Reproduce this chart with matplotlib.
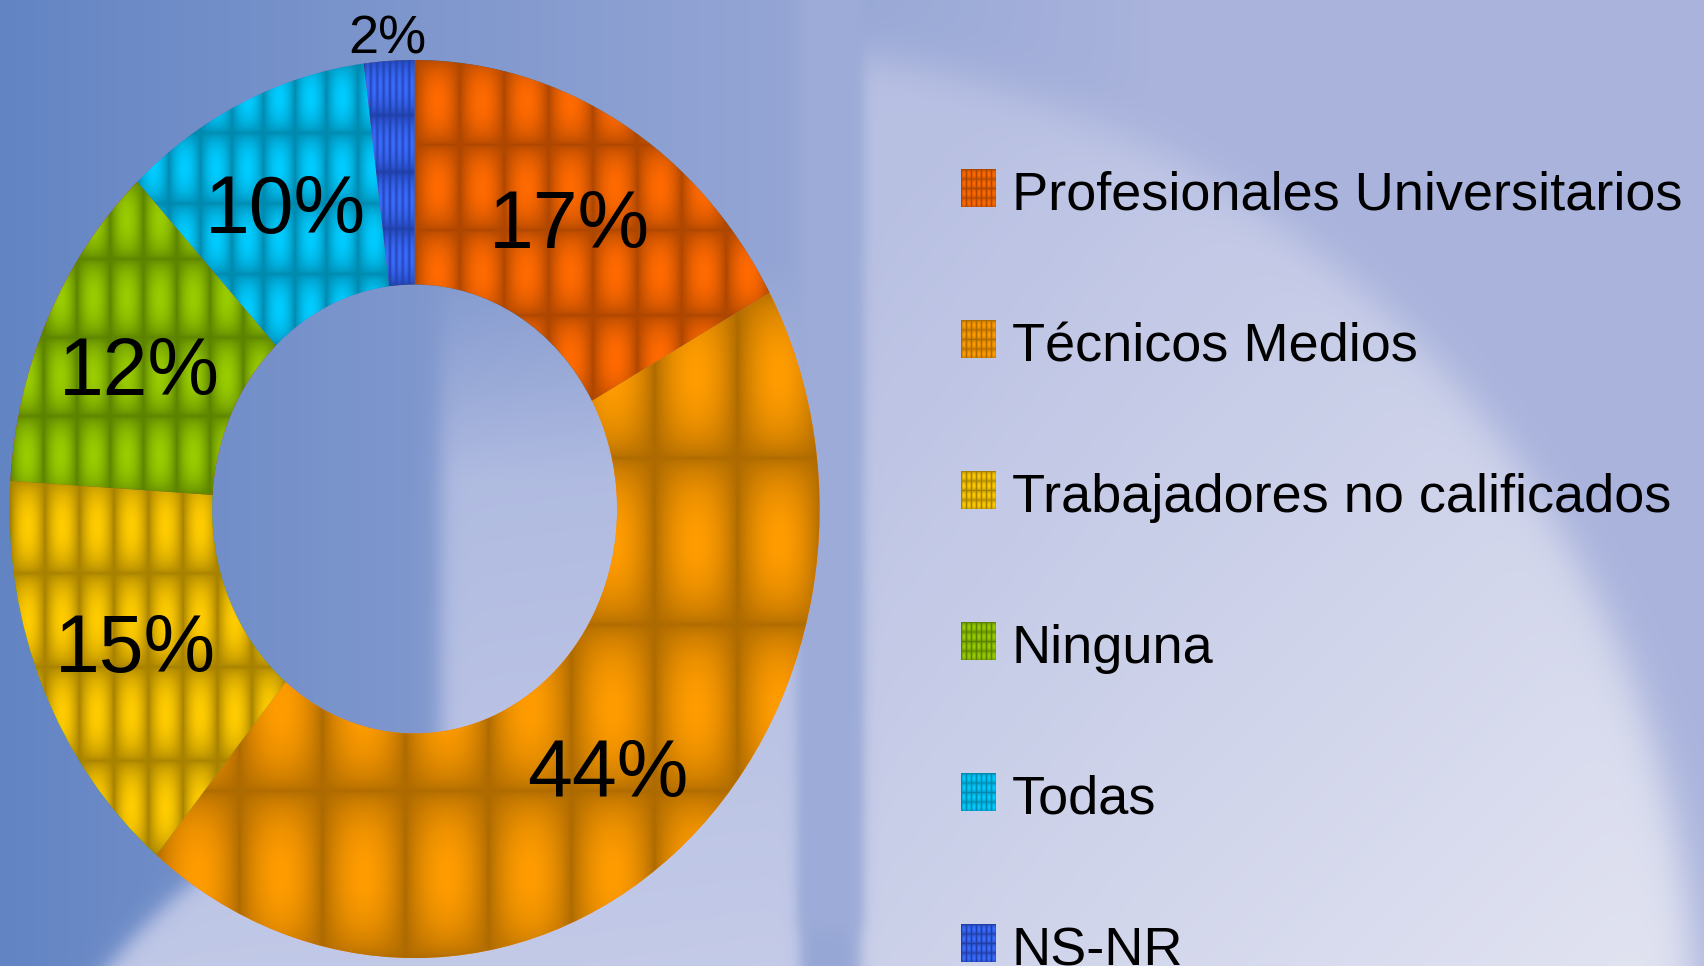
import numpy as np
import matplotlib.pyplot as plt
from matplotlib.colors import to_rgb
from matplotlib.transforms import ScaledTranslation

# data
categories = ['Profesionales Universitarios', 'Técnicos Medios',
              'Trabajadores no calificados', 'Ninguna', 'Todas', 'NS-NR']
values = [17, 44, 15, 12, 10, 2]
light_colors = ['#ff6a00', '#ff9c00', '#ffcc00', '#99cc00', '#00ccff', '#3a6cff']
dark_colors = ['#ad4600', '#ad6a00', '#a68000', '#5a8200', '#0088ad', '#1f3ea6']

W, H = 1704, 966
plt.rcParams['font.family'] = ['Liberation Sans', 'DejaVu Sans']
fig = plt.figure(figsize=(W / 100, H / 100), dpi=100)


def lerp(c0, c1, t):
    c0, c1 = np.array(to_rgb(c0)), np.array(to_rgb(c1))
    t = np.asarray(t, dtype=float)
    return c0 + (c1 - c0) * t[..., None]


def soft(d, w=12.0):
    # smooth 0..1 step on a signed distance
    return 1 / (1 + np.exp(-d / w))


def mix(img, col, m):
    return img * (1 - m[..., None]) + col * m[..., None]


# background: blue slide gradient with the faint watermark shapes
X, Y = np.meshgrid(np.arange(W), np.arange(H))
bg = lerp('#6284c3', '#a9b3dc', np.clip(X / 1150, 0, 1) ** 0.9)

big = soft(990 - np.hypot(X - 706, Y - 1032)) * soft(X - 860, 4)
bg = mix(bg, lerp('#bcc3e4', '#e7e8f3', np.clip((X + Y - 1100) / 1500, 0, 1)), 0.9 * big)

arch = soft(X - 440, 6) * soft(800 - X, 4) * np.clip((Y - 260) / 220, 0, 1)
arc = soft(580 - np.hypot(X - 560, Y - 1330), 6) * soft(800 - X, 4)
low = np.maximum(arch, arc)
bg = mix(bg, lerp('#aeb9e0', '#cbd0eb', np.clip((Y - 300) / 700, 0, 1)), 0.9 * low)

band = soft(X - 800, 4) * soft(860 - X, 4) * soft(930 - Y, 6)
bg = mix(bg, np.array(to_rgb('#9dacd8')), band)

bg_ax = fig.add_axes([0, 0, 1, 1])
bg_ax.imshow(np.clip(bg, 0, 1), aspect='auto', interpolation='bilinear')
bg_ax.axis('off')

# donut, stretched vertically like the original
cx, cy, rx, ry = 414.6, 509, 405, 449
ax = fig.add_axes([(cx - rx) / W, (H - cy - ry) / H, 2 * rx / W, 2 * ry / H])
wedges, _ = ax.pie(values, startangle=90, counterclock=False, radius=1,
                   wedgeprops=dict(width=0.5, linewidth=0))


def bump_texture(nx, ny, cols, rows, c_light, c_dark):
    u = (np.arange(nx) / nx * cols) % 1
    v = (np.arange(ny) / ny * rows) % 1
    f = np.sin(np.pi * u)[None, :] ** 0.8 * np.sin(np.pi * v)[:, None] ** 0.6
    return lerp(c_dark, c_light, f)


for w, cl, cd in zip(wedges, light_colors, dark_colors):
    ext = w.get_path().get_extents()
    nx = max(int(ext.width * rx), 4)
    ny = max(int(ext.height * ry), 4)
    tex = bump_texture(nx, ny, 8, 4, cl, cd)
    ax.imshow(tex, extent=(ext.x0, ext.x1, ext.y0, ext.y1), origin='lower',
              aspect='auto', clip_path=w, zorder=2, interpolation='bilinear')

ax.set_aspect('auto')
ax.set_xlim(-1, 1)
ax.set_ylim(-1, 1)
ax.axis('off')

# percentage labels
for w, val in zip(wedges, values):
    mid = np.deg2rad((w.theta1 + w.theta2) / 2)
    r = 0.75 if val >= 5 else 1.06
    size = 58 if val >= 5 else 39
    drop = ScaledTranslation(0, -size * 0.36 / 72, fig.dpi_scale_trans)
    ax.text(r * np.cos(mid), r * np.sin(mid), f'{val}%', ha='center',
            va='baseline', fontsize=size, color='black', zorder=5,
            transform=ax.transData + drop, clip_on=False)

# legend
row0, step = 188, 151
for i, (name, cl, cd) in enumerate(zip(categories, light_colors, dark_colors)):
    yc = row0 + i * step
    mark = bump_texture(35, 38, 7, 4, cl, cd)
    fig.figimage(mark, xo=961, yo=H - (yc + 19), origin='upper', zorder=5)
    fig.text(1012 / W, (H - yc - 22) / H, name, fontsize=39, color='black',
             ha='left', va='baseline')

fig.savefig('out.png', dpi=100)
